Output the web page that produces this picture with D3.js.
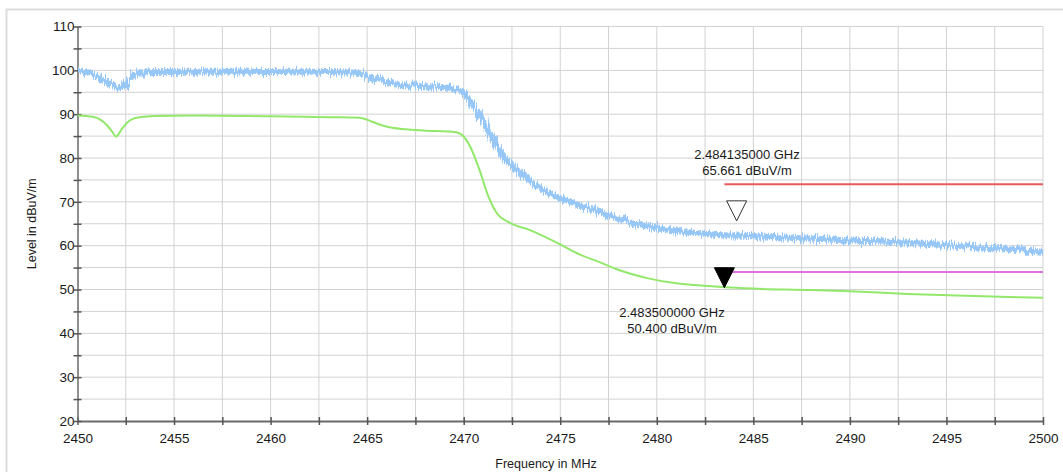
<!DOCTYPE html>
<html>
<head>
<meta charset="utf-8">
<script src="https://cdn.jsdelivr.net/npm/d3@7"></script>
<style>
  body { margin: 0; background: #fff; }
  svg text { font-family: "Liberation Sans", Arial, sans-serif; fill: #1a1a1a; }
</style>
</head>
<body>
<div id="chart"></div>
<script>
// Spectrum plot: peak (blue) and average (green) traces with limit lines

// Peak trace: [MHz, dBuV/m]
const peakTrace = [
  [2450, 99.8], [2450.5, 99.5], [2451, 98.6], [2451.5, 97.5], [2452, 96.1], [2452.3, 96.2],
  [2452.55, 97.3], [2452.8, 98.6], [2453.1, 99.4], [2454, 99.6], [2456, 99.7], [2458, 99.7],
  [2460, 99.6], [2462, 99.7], [2464, 99.5], [2464.6, 99.3], [2465.3, 98.3], [2465.8, 97.4],
  [2466.3, 96.8], [2467.9, 96.4], [2469.3, 96.0], [2469.7, 95.6], [2470, 94.9], [2470.5, 91.8],
  [2471, 88.3], [2471.5, 84.5], [2472, 80.7], [2472.5, 78.3], [2473, 76.3], [2473.5, 74.5],
  [2474, 73.0], [2475, 70.8], [2476, 69.2], [2477, 67.7], [2478, 66.2], [2479, 65.0],
  [2480, 64.0], [2481, 63.4], [2482, 62.9], [2483, 62.5], [2484, 62.3], [2486, 62.0],
  [2488, 61.6], [2490, 61.2], [2492, 60.9], [2494, 60.4], [2496, 59.8], [2498, 59.2], [2500, 58.6]
];

// Average trace
const avgTrace = [
  [2450, 89.7], [2450.8, 89.4], [2451.2, 88.7], [2451.5, 87.6], [2451.8, 86.0], [2452, 84.9],
  [2452.25, 86.3], [2452.55, 88.0], [2452.9, 89.0], [2453.2, 89.3], [2454, 89.6], [2456, 89.7],
  [2460, 89.5], [2463, 89.3], [2464.6, 89.2], [2465.3, 88.2], [2465.8, 87.4], [2466.3, 86.9],
  [2467.9, 86.3], [2469.6, 85.9], [2470, 84.9], [2470.4, 82.0], [2470.8, 77.5], [2471.3, 71.0],
  [2471.7, 67.5], [2472.4, 65.2], [2473.4, 63.6], [2475, 60.3], [2476, 58.0], [2477, 56.3],
  [2478, 54.5], [2479.5, 52.6], [2481, 51.4], [2482, 51.0], [2483.5, 50.5], [2485, 50.2],
  [2488, 49.9], [2490, 49.6], [2493, 49.0], [2496, 48.6], [2500, 48.1]
];

// Limit lines
const peakLimit = [[2483.5, 74], [2500, 74]];
const avgLimit = [[2483.5, 54], [2500, 54]];

// Markers
const markers = [
  { freq: 2484.135, level: 65.661, filled: false, lines: ['2.484135000 GHz', '65.661 dBuV/m'] },
  { freq: 2483.5, level: 50.4, filled: true, lines: ['2.483500000 GHz', '50.400 dBuV/m'] }
];

const xTickLabels = [2450, 2455, 2460, 2465, 2470, 2475, 2480, 2485, 2490, 2495, 2500];
const yTickLabels = [20, 30, 40, 50, 60, 70, 80, 90, 100, 110];

const width = 1063, height = 472;
const plot = { left: 77.5, right: 1043, top: 26.5, bottom: 421 };

const svg = d3.select('#chart').append('svg')
  .attr('width', width)
  .attr('height', height);

// jitter filter so the peak trace reads as a noisy measurement band
const filter = svg.append('defs').append('filter')
  .attr('id', 'noise')
  .attr('filterUnits', 'userSpaceOnUse')
  .attr('x', 0).attr('y', 0).attr('width', width).attr('height', height);
filter.append('feTurbulence')
  .attr('type', 'fractalNoise')
  .attr('baseFrequency', '0.85 0.03')
  .attr('numOctaves', 3)
  .attr('seed', 7)
  .attr('result', 'turb');
filter.append('feDisplacementMap')
  .attr('in', 'SourceGraphic')
  .attr('in2', 'turb')
  .attr('scale', 11)
  .attr('xChannelSelector', 'G')
  .attr('yChannelSelector', 'R');

// outer frame
svg.append('path')
  .attr('d', `M6.5,${height + 2}V9.5H${width + 2}`)
  .attr('fill', 'none')
  .attr('stroke', '#dcdcdc')
  .attr('stroke-width', 2);

const x = d3.scaleLinear().domain([2450, 2500]).range([plot.left, plot.right]);
const y = d3.scaleLinear().domain([20, 110]).range([plot.bottom, plot.top]);

// grid
const grid = svg.append('g').attr('stroke', '#d2d2d2').attr('stroke-width', 1);
grid.selectAll('line.v')
  .data(d3.range(2452.5, 2500.1, 2.5))
  .enter().append('line')
  .attr('x1', d => x(d)).attr('x2', d => x(d))
  .attr('y1', plot.top).attr('y2', plot.bottom);
grid.selectAll('line.h')
  .data(d3.range(25, 110.1, 5))
  .enter().append('line')
  .attr('x1', plot.left).attr('x2', plot.right)
  .attr('y1', d => y(d)).attr('y2', d => y(d));

// axes
const xAxis = d3.axisBottom(x)
  .tickValues(d3.range(2450, 2500.1, 2.5))
  .tickSize(0)
  .tickFormat(d => xTickLabels.includes(d) ? d : '');
const gx = svg.append('g')
  .attr('transform', `translate(0,${plot.bottom})`)
  .call(xAxis);
gx.select('.domain').attr('stroke', '#6a6a6a').attr('stroke-width', 2);
gx.selectAll('.tick text').attr('dy', '1.4em').attr('font-size', 13.5).attr('fill', '#1a1a1a');
gx.selectAll('.tick').append('line')
  .attr('y1', -4).attr('y2', 4).attr('stroke', '#555').attr('stroke-width', 1.5);

const yAxis = d3.axisLeft(y)
  .tickValues(d3.range(20, 110.1, 5))
  .tickSize(0)
  .tickFormat(d => yTickLabels.includes(d) ? d : '');
const gy = svg.append('g')
  .attr('transform', `translate(${plot.left},0)`)
  .call(yAxis);
gy.select('.domain').attr('stroke', '#6a6a6a').attr('stroke-width', 1.5);
gy.selectAll('.tick text').attr('x', -3).attr('font-size', 13.5).attr('fill', '#1a1a1a');
gy.selectAll('.tick').append('line')
  .attr('x1', -4).attr('x2', 4).attr('stroke', '#555').attr('stroke-width', 1.5);

// axis titles
svg.append('text')
  .attr('x', 546).attr('y', 468)
  .attr('text-anchor', 'middle')
  .attr('font-size', 12.5)
  .text('Frequency in MHz');
svg.append('text')
  .attr('transform', `translate(36,${(plot.top + plot.bottom) / 2}) rotate(-90)`)
  .attr('text-anchor', 'middle')
  .attr('font-size', 12.5)
  .text('Level in dBuV/m');

const line = d3.line().x(d => x(d[0])).y(d => y(d[1])).curve(d3.curveMonotoneX);

// limit lines
svg.append('path').datum(peakLimit)
  .attr('d', line).attr('fill', 'none')
  .attr('stroke', '#e85a5a').attr('stroke-width', 2);
svg.append('path').datum(avgLimit)
  .attr('d', line).attr('fill', 'none')
  .attr('stroke', '#e070e0').attr('stroke-width', 2);

// peak trace
svg.append('path').datum(peakTrace)
  .attr('d', line).attr('fill', 'none')
  .attr('stroke', '#97c7f6')
  .attr('stroke-width', 6).attr('stroke-linejoin', 'round')
  .attr('filter', 'url(#noise)');

// average trace
svg.append('path').datum(avgTrace)
  .attr('d', line).attr('fill', 'none')
  .attr('stroke', '#92e86a')
  .attr('stroke-width', 2).attr('stroke-linejoin', 'round');

// markers
markers.forEach(m => {
  const mx = x(m.freq), my = y(m.level);
  svg.append('path')
    .attr('d', `M${mx - 10},${my - 20}L${mx + 10},${my - 20}L${mx},${my}Z`)
    .attr('fill', m.filled ? '#000' : '#fff')
    .attr('stroke', m.filled ? '#000' : '#333')
    .attr('stroke-width', 1);
});

// marker labels
const labelPos = [
  { x: 747, y: 159 },
  { x: 672, y: 317 }
];
markers.forEach((m, i) => {
  const t = svg.append('text')
    .attr('x', labelPos[i].x).attr('y', labelPos[i].y)
    .attr('text-anchor', 'middle')
    .attr('font-size', 13);
  m.lines.forEach((s, j) => {
    t.append('tspan').attr('x', labelPos[i].x).attr('dy', j ? 16 : 0).text(s);
  });
});
</script>
</body>
</html>
